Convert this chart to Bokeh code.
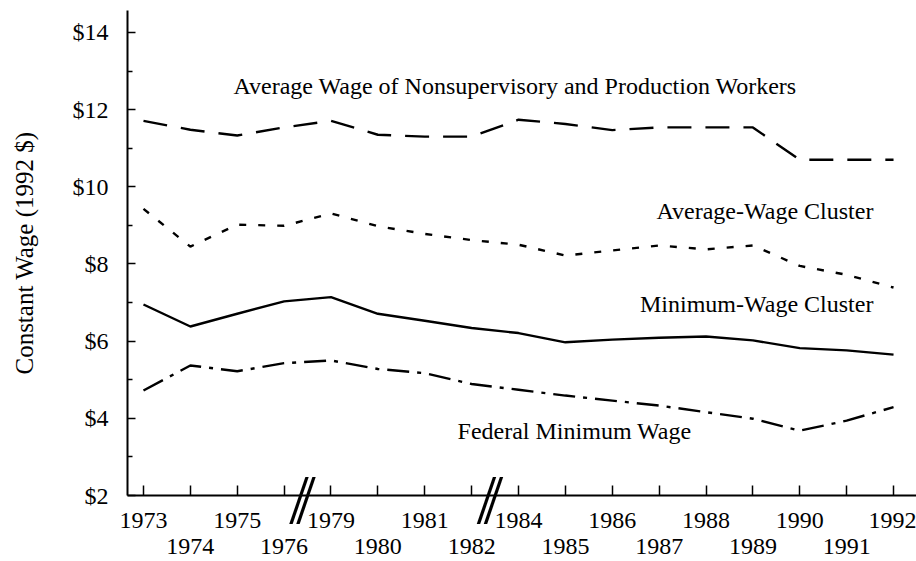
from bokeh.plotting import figure
from bokeh.models import FixedTicker, LinearAxis, Label, Range1d, CustomJSTickFormatter
from bokeh.embed import file_html
from bokeh.resources import INLINE

# ---------------- data (constant 1992 dollars) ----------------
years = ["1973", "1974", "1975", "1976", "1979", "1980", "1981", "1982", "1984",
         "1985", "1986", "1987", "1988", "1989", "1990", "1991", "1992"]
avg_wage_nonsupervisory = [11.71, 11.48, 11.33, 11.54, 11.71, 11.35, 11.30, 11.30, 11.74,
                           11.63, 11.47, 11.54, 11.54, 11.54, 10.70, 10.70, 10.70]
avg_wage_cluster = [9.43, 8.45, 9.02, 8.99, 9.31, 8.98, 8.78, 8.62, 8.50,
                    8.22, 8.35, 8.48, 8.38, 8.48, 7.95, 7.72, 7.39]
min_wage_cluster = [6.95, 6.38, 6.71, 7.03, 7.14, 6.71, 6.53, 6.34, 6.21,
                    5.97, 6.04, 6.09, 6.12, 6.02, 5.82, 5.76, 5.65]
federal_min_wage = [4.72, 5.37, 5.22, 5.43, 5.50, 5.28, 5.17, 4.89, 4.74,
                    4.59, 4.46, 4.33, 4.16, 3.99, 3.68, 3.94, 4.29]
y_ticks = [2, 4, 6, 8, 10, 12, 14]
y_minor = [3, 5, 7, 9, 11, 13]
# axis breaks lie between 1976|1979 and 1982|1984
break_after = ["1976", "1982"]

x = list(range(len(years)))
FONT = "Liberation Serif"
FS = "24px"

p = figure(width=916, height=561,
           x_range=Range1d(-0.341, 16.49), y_range=Range1d(2, 14.57),
           output_backend="svg", toolbar_location=None,
           x_axis_location=None, y_axis_location=None,
           min_border_left=127, min_border_right=0, min_border_top=10, min_border_bottom=66)
p.grid.visible = False
p.outline_line_color = None
p.background_fill_color = "white"
p.border_fill_color = "white"

# ---------------- axes ----------------
yaxis = LinearAxis(ticker=FixedTicker(ticks=y_ticks, minor_ticks=y_minor),
                   major_label_overrides={t: "$%d" % t for t in y_ticks})
yaxis.axis_line_width = 2
yaxis.major_tick_in = 8
yaxis.major_tick_out = 0
yaxis.minor_tick_in = 5
yaxis.minor_tick_out = 0
yaxis.major_tick_line_width = 1.5
yaxis.minor_tick_line_width = 1.5
yaxis.major_label_text_font = FONT
yaxis.major_label_text_font_size = FS
yaxis.major_label_text_color = "black"
yaxis.major_label_standoff = 19
yaxis.axis_label = "Constant Wage (1992 $)"
yaxis.axis_label_text_font = FONT
yaxis.axis_label_text_font_size = "25px"
yaxis.axis_label_text_font_style = "normal"
yaxis.axis_label_text_color = "black"
yaxis.axis_label_standoff = 32
p.add_layout(yaxis, "left")

row1 = {i: (years[i] if i % 2 == 0 else "") for i in x}
row2 = {i: years[i] for i in x if i % 2 == 1}

xaxis1 = LinearAxis(ticker=FixedTicker(ticks=x), major_label_overrides=row1)
xaxis1.axis_line_width = 2
xaxis1.major_tick_in = 10
xaxis1.major_tick_out = 0
xaxis1.major_tick_line_width = 1.5
xaxis1.major_label_text_font = FONT
xaxis1.major_label_text_font_size = FS
xaxis1.major_label_text_color = "black"
xaxis1.major_label_standoff = 17
p.add_layout(xaxis1, "below")

xaxis2 = LinearAxis(ticker=FixedTicker(ticks=list(row2.keys())), major_label_overrides=row2)
xaxis2.axis_line_color = None
xaxis2.major_tick_line_color = None
xaxis2.major_tick_in = 0
xaxis2.major_tick_out = 0
xaxis2.minor_tick_in = 0
xaxis2.minor_tick_out = 0
xaxis2.major_label_text_font = FONT
xaxis2.major_label_text_font_size = FS
xaxis2.major_label_text_color = "black"
xaxis2.major_label_standoff = 8
p.add_layout(xaxis2, "below")

# axis-break marks "//" drawn as labels of a third, line-less axis pulled up onto the x axis
break_ticks = []
for yr in break_after:
    c = years.index(yr) + 0.39
    break_ticks += [c - 0.075, c + 0.075]
xaxis3 = LinearAxis(ticker=FixedTicker(ticks=break_ticks),
                    formatter=CustomJSTickFormatter(code="return '/'"))
xaxis3.axis_line_color = None
xaxis3.major_tick_line_color = None
xaxis3.major_tick_in = 0
xaxis3.major_tick_out = 0
xaxis3.minor_tick_in = 0
xaxis3.minor_tick_out = 0
xaxis3.major_label_text_font = FONT
xaxis3.major_label_text_font_size = "70px"
xaxis3.major_label_text_color = "black"
xaxis3.major_label_standoff = -96
p.add_layout(xaxis3, "below")

# ---------------- series ----------------
p.line(x, avg_wage_nonsupervisory, line_color="black", line_width=2.4, line_dash="24 14")
p.line(x, avg_wage_cluster, line_color="black", line_width=2.4, line_dash="7 12")
p.line(x, min_wage_cluster, line_color="black", line_width=2.4)
p.line(x, federal_min_wage, line_color="black", line_width=2.4, line_dash="22 8 4 8")

# ---------------- series labels ----------------
def add_label(text, xx, yy, align):
    p.add_layout(Label(x=xx, y=yy, y_offset=7, text=text, text_font=FONT, text_font_size=FS,
                       text_color="black", text_align=align, text_baseline="alphabetic"))

add_label("Average Wage of Nonsupervisory and Production Workers", 1.92, 12.42, "left")
add_label("Average-Wage Cluster", 15.57, 9.18, "right")
add_label("Minimum-Wage Cluster", 15.57, 6.77, "right")
add_label("Federal Minimum Wage", 6.70, 3.50, "left")

open("out.html", "w").write(file_html(p, INLINE))
